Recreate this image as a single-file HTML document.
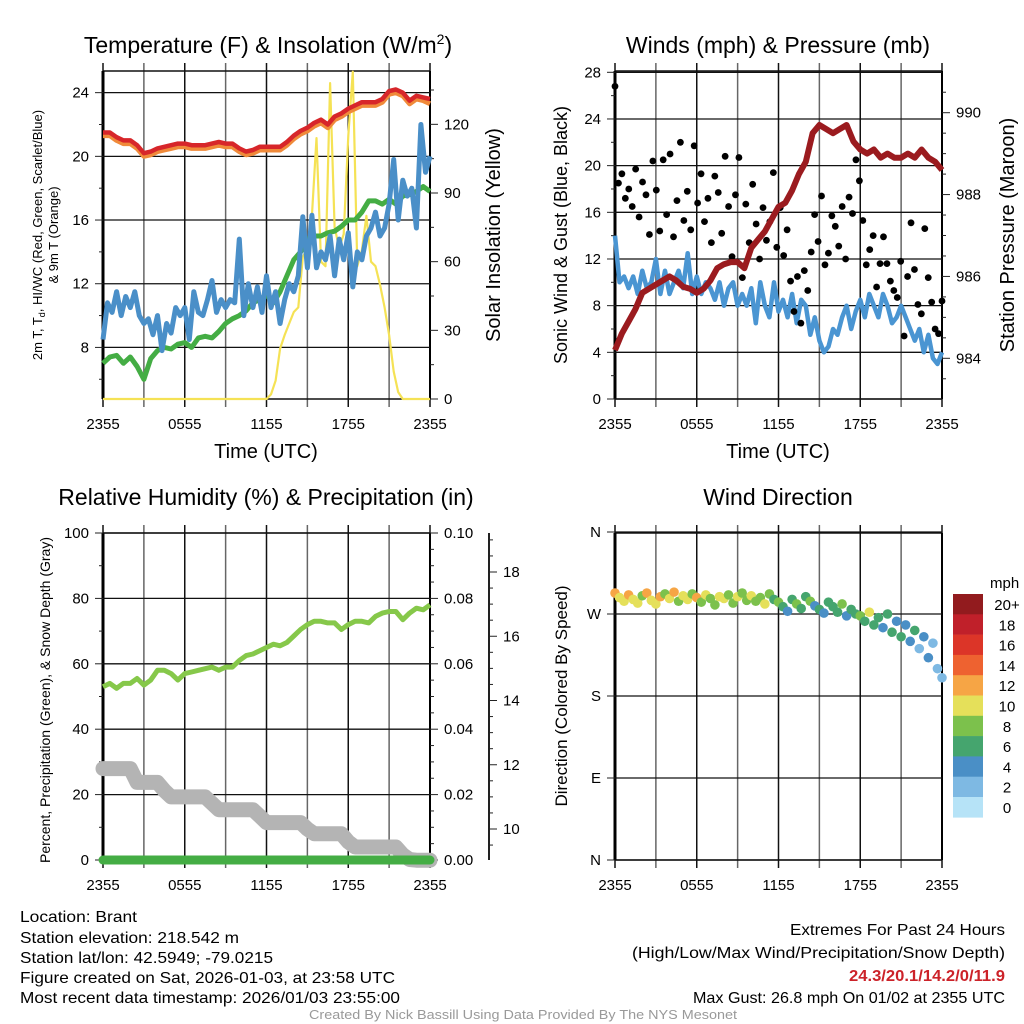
<!DOCTYPE html>
<html><head><meta charset="utf-8">
<style>
html,body{margin:0;padding:0;background:#fff;}
svg{display:block;font-family:"Liberation Sans",Arial,sans-serif;}
</style></head>
<body>
<svg id="fig" width="1024" height="1024" viewBox="0 0 1024 1024" xmlns="http://www.w3.org/2000/svg">
<rect x="0" y="0" width="1024" height="1024" fill="#fff"/>
<text x="268" y="53" font-size="23" text-anchor="middle">Temperature (F) &amp; Insolation (W/m<tspan dy="-9" font-size="14">2</tspan><tspan dy="9">)</tspan></text>
<text x="778" y="53" font-size="23" text-anchor="middle">Winds (mph) &amp; Pressure (mb)</text>
<text x="266" y="505" font-size="23" text-anchor="middle">Relative Humidity (%) &amp; Precipitation (in)</text>
<text x="778" y="505" font-size="23" text-anchor="middle">Wind Direction</text>

<text x="266" y="458" font-size="20" text-anchor="middle">Time (UTC)</text>
<text x="778" y="458" font-size="20" text-anchor="middle">Time (UTC)</text>

<text transform="translate(42,235) rotate(-90)" font-size="13" text-anchor="middle">2m T, T<tspan dy="3" font-size="9">d</tspan><tspan dy="-3">, HI/WC (Red, Green, Scarlet/Blue)</tspan></text>
<text transform="translate(58,235) rotate(-90)" font-size="13" text-anchor="middle">&amp; 9m T (Orange)</text>
<text transform="translate(500,235) rotate(-90)" font-size="20" text-anchor="middle">Solar Insolation (Yellow)</text>
<text transform="translate(567,235) rotate(-90)" font-size="18" text-anchor="middle">Sonic Wind &amp; Gust (Blue, Black)</text>
<text transform="translate(1014,235) rotate(-90)" font-size="20" text-anchor="middle">Station Pressure (Maroon)</text>
<text transform="translate(50,700) rotate(-90)" font-size="14" text-anchor="middle">Percent, Precipitation (Green), &amp; Snow Depth (Gray)</text>
<text transform="translate(567,696) rotate(-90)" font-size="17" text-anchor="middle">Direction (Colored By Speed)</text>

<g font-size="16">
<text x="20" y="922" textLength="117" lengthAdjust="spacingAndGlyphs">Location: Brant</text>
<text x="20" y="943" textLength="219" lengthAdjust="spacingAndGlyphs">Station elevation: 218.542 m</text>
<text x="20" y="963" textLength="253" lengthAdjust="spacingAndGlyphs">Station lat/lon: 42.5949; -79.0215</text>
<text x="20" y="983" textLength="375" lengthAdjust="spacingAndGlyphs">Figure created on Sat, 2026-01-03, at 23:58 UTC</text>
<text x="20" y="1003" textLength="380" lengthAdjust="spacingAndGlyphs">Most recent data timestamp: 2026/01/03 23:55:00</text>
</g>
<g font-size="16">
<text x="790" y="935" textLength="215" lengthAdjust="spacingAndGlyphs">Extremes For Past 24 Hours</text>
<text x="632" y="958" textLength="373" lengthAdjust="spacingAndGlyphs">(High/Low/Max Wind/Precipitation/Snow Depth)</text>
<text x="849" y="981" textLength="156" lengthAdjust="spacingAndGlyphs" fill="#cc2229" font-weight="bold">24.3/20.1/14.2/0/11.9</text>
<text x="693" y="1003" textLength="312" lengthAdjust="spacingAndGlyphs">Max Gust: 26.8 mph On 01/02 at 2355 UTC</text>
</g>
<text x="309" y="1019" font-size="13" fill="#999" textLength="428" lengthAdjust="spacingAndGlyphs">Created By Nick Bassill Using Data Provided By The NYS Mesonet</text>
</svg>
<script>
// ---------- data ----------
const timeLabels=["2355","0555","1155","1755","2355"];
const tempRed=[21.5,21.5,21.2,21.0,21.0,20.7,20.2,20.3,20.5,20.6,20.7,20.8,20.8,20.7,20.7,20.7,20.8,20.9,20.8,20.8,20.5,20.3,20.4,20.6,20.6,20.6,20.6,20.9,21.3,21.6,21.8,22.1,22.3,22.0,22.5,22.7,23.0,23.2,23.4,23.4,23.4,23.6,24.1,24.2,24.0,23.5,23.8,23.7,23.6];
const temp9mOrange=[21.3,21.3,21.0,20.8,20.8,20.5,20.0,20.1,20.3,20.4,20.5,20.6,20.6,20.5,20.5,20.5,20.6,20.7,20.6,20.6,20.3,20.1,20.2,20.4,20.4,20.4,20.4,20.7,21.1,21.4,21.6,21.9,22.1,21.8,22.3,22.5,22.8,23.0,23.2,23.2,23.2,23.4,23.9,24.0,23.8,23.3,23.6,23.5,23.3];
const dewGreen=[7.0,7.4,7.5,7.0,7.4,6.8,6.0,7.3,7.8,8.0,7.9,8.2,8.3,8.0,8.6,8.7,8.6,9.0,9.5,9.8,10.0,10.3,10.8,11.0,11.3,10.8,11.5,12.5,13.5,14.0,14.8,15.0,15.0,15.2,15.3,15.6,16.0,16.0,16.5,17.2,17.2,17.0,17.3,17.0,17.5,17.6,17.8,18.1,17.8];
const windChillBlue=[8.5,10.8,10.2,11.5,10.0,11.2,10.5,11.5,10.0,9.5,9.8,8.8,10.0,7.8,9.5,8.9,10.5,10.0,10.5,8.5,11.5,10.2,10.0,11.0,12.2,10.2,11.0,10.5,11.0,10.8,14.8,10.0,12.0,10.5,11.8,10.2,12.5,10.5,11.5,9.5,11.0,12.0,11.5,12.5,16.2,13.0,16.3,13.0,14.0,13.5,15.0,12.5,14.8,13.5,15.2,11.8,14.0,13.5,15.0,15.5,16.5,15.0,15.5,17.0,19.8,16.0,18.5,17.5,18.0,15.5,22.0,19.0,20.0];
const solarYellow=[0,0,0,0,0,0,0,0,0,0,0,0,0,0,0,0,0,0,0,0,0,0,0,0,0,0,0,0,0,0,0,0,0,0,0,0,0,2,8,22,28,33,38,40,62,66,80,114,60,58,138,75,66,72,115,143,58,65,80,60,58,50,40,28,12,3,0,0,0,0,0,0,0];
const windSpeed=[14,10,10.5,9.5,10.5,9,11,9.5,10,12,9,11,9,10,11,9.5,12.5,9,10.5,9,10,9.5,8.5,10,8,9.5,10,8,9,8,9.5,6.5,10,8,7,10,7.5,8.5,7,9,6.5,8.5,8,5.5,7,5,4,4.5,6,5.5,7,8,6,7.5,8.5,7,9,8,7,9,8,6.5,7,8,7,6,5,6,4,5.5,3.5,3,4];
const windGust=[26.8,18.5,19.3,17.2,18.0,16.5,19.7,15.6,18.6,17.5,14.1,20.4,17.9,14.4,20.5,15.8,21.0,13.9,17.0,22.0,15.3,17.8,14.5,21.7,
16.8,19.3,15.2,17.2,13.4,19.1,17.7,14.2,20.8,16.5,12.2,17.5,20.7,10.4,16.7,13.4,18.4,15.0,12.0,16.4,13.6,15.2,19.4,13.0,
16.4,12.3,14.5,10.1,7.5,10.5,6.5,11.0,9.3,12.6,15.8,13.5,17.4,11.5,12.5,15.7,14.8,13.1,16.5,12.0,17.3,15.9,20.5,18.7,
15.3,11.5,12.8,14.0,9.6,11.6,13.9,11.6,10.1,9.3,8.7,11.8,5.4,10.5,15.1,11.1,8.1,7.3,14.6,10.4,8.3,6.0,5.6,8.4];
const pressure=[984.2,984.6,984.9,985.2,985.6,985.7,985.8,985.9,986.0,985.9,985.75,985.7,985.6,985.7,985.9,986.2,986.3,986.35,986.35,986.2,986.7,986.9,987.1,987.4,987.7,987.8,988.1,988.5,988.8,989.5,989.7,989.6,989.5,989.6,989.7,989.3,989.1,989.0,989.1,988.9,989.0,988.9,988.9,989.0,988.9,989.1,988.9,988.8,988.6];
const humidity=[53,54,52.5,54,54,55.5,53.5,55,58,58,57,55,57,57.5,58,58.5,59,58,59,59,61,62.5,63,64,65,66,65.5,66.5,68.5,70.5,72,73,73,72.5,72.5,70.5,72,73,73,72.5,74.5,75.5,76,76,73.5,75.5,77,76.5,78];
const precip=[0,0,0,0,0,0,0,0,0,0,0,0,0,0,0,0,0,0,0,0,0,0,0,0,0,0,0,0,0,0,0,0,0,0,0,0,0,0,0,0,0,0,0,0,0,0,0,0,0];
const snowDepth=[11.88,11.88,11.88,11.88,11.88,11.45,11.45,11.45,11.45,11.2,11.0,11.0,11.0,11.0,11.0,11.0,10.8,10.6,10.6,10.6,10.6,10.6,10.6,10.4,10.2,10.2,10.2,10.2,10.2,10.2,10.0,9.85,9.85,9.85,9.85,9.85,9.6,9.44,9.44,9.44,9.44,9.44,9.44,9.44,9.2,9.05,9.03,9.03,9.03];
const windDir=[293,288,284,291,286,282,290,293,285,281,289,292,287,294,284,290,286,292,288,283,291,287,280,289,
287,291,282,289,293,285,290,284,288,281,292,286,283,278,273,286,281,276,289,284,279,275,271,283,
278,272,281,268,275,270,268,262,272,258,266,255,270,250,262,245,258,240,252,232,245,222,238,210,200];
const dirSpeed=[13,11,10,12,10,11,9,12,11,10,12,9,11,12,8,10,11,9,12,8,10,9,8,11,
10,9,8,11,9,8,10,9,8,10,9,7,8,6,5,7,8,6,7,8,5,6,4,7,
6,7,8,4,7,6,8,7,10,6,7,5,6,7,4,6,5,4,6,3,4,5,3,2,3];
const speedBins=["0","2","4","6","8","10","12","14","16","18","20+"];
const binColors=["#b6e3f7","#7eb9e3","#4a8fc6","#45a56e","#7cc14c","#e5e05a","#f6a545","#ee6230","#dc3528","#c0202a","#921b1e"];

// ---------- helpers ----------
const NS="http://www.w3.org/2000/svg";
const svg=document.getElementById('fig');
function mk(tag,attrs,parent){const e=document.createElementNS(NS,tag);for(const k in attrs)e.setAttribute(k,attrs[k]);(parent||svg).appendChild(e);return e;}
function lin(d0,d1,r0,r1){return v=>r0+(v-d0)/(d1-d0)*(r1-r0);}
function xs(P,n){return i=>P.x0+(P.x1-P.x0)*i/(n-1);}
function linePath(arr,xf,yf){return arr.map((v,i)=>(i?'L':'M')+xf(i).toFixed(1)+','+yf(v).toFixed(1)).join('');}

function frame(P,name){
  const g=mk('g',{});
  
  
  for(let k=0;k<=8;k++){
    const x=P.x0+(P.x1-P.x0)*k/8;
    const l=mk('line',{x1:x,x2:x,y1:P.y0-8,y2:P.y1+8,stroke:(k%2?'#666':'#111'),'stroke-width':1.5},g);
    
    
    if(k%2===0){
      const t=mk('text',{x:x,y:P.y1+30,'font-size':15,'text-anchor':'middle'},g);
      t.textContent=timeLabels[k/2];
      
      
    }
  }
  const top=mk('line',{x1:P.x0,x2:P.x1,y1:P.y0,y2:P.y0,stroke:'#111','stroke-width':1.5},g);
  
  
  const bot=mk('line',{x1:P.x0,x2:P.x1,y1:P.y1,y2:P.y1,stroke:'#111','stroke-width':1.5},g);
  
  
  const lb=mk('line',{x1:P.x0,x2:P.x0,y1:P.y0,y2:P.y1,stroke:'#000','stroke-width':3},g);
  
  
  const rb=mk('line',{x1:P.x1,x2:P.x1,y1:P.y0,y2:P.y1,stroke:'#000','stroke-width':2},g);
  
  
}
function leftAxis(P,yf,lo,hi,major,minor,labels,name,grid){
  const g=mk('g',{});
  
  
  for(let v=lo;v<=hi+1e-9;v+=minor){
    const y=yf(v);const isMaj=Math.abs(v/major-Math.round(v/major))<1e-6;
    mk('line',{x1:P.x0-(isMaj?8:4),x2:P.x0,y1:y,y2:y,stroke:'#222','stroke-width':1},g);
    if(isMaj){
      if(grid) mk('line',{x1:P.x0,x2:P.x1,y1:y,y2:y,stroke:'#111','stroke-width':1.3},g);
      const t=mk('text',{x:P.x0-14,y:y+5,'font-size':15,'text-anchor':'end'},g);
      t.textContent=labels?labels(v):String(v);
      
      
    }
  }
}
function rightAxis(x,yf,lo,hi,major,minor,fmt,name,lineY){
  const g=mk('g',{});
  
  
  if(lineY) mk('line',{x1:x,x2:x,y1:lineY[0],y2:lineY[1],stroke:'#222','stroke-width':2},g);
  for(let v=lo;v<=hi+1e-9;v+=minor){
    const y=yf(v);const isMaj=Math.abs(v/major-Math.round(v/major))<1e-6;
    mk('line',{x1:x,x2:x+(isMaj?8:4),y1:y,y2:y,stroke:'#222','stroke-width':1},g);
    if(isMaj){
      const t=mk('text',{x:x+14,y:y+5,'font-size':15},g);
      t.textContent=fmt(v);
      
      
    }
  }
}

// ---------- panel 1: temperature ----------
const P1={x0:103,x1:430,y0:71,y1:399};
const yT=lin(4.76,25.36,399,71), yS=lin(0,143.3,399,71);
frame(P1,'temperature');
leftAxis(P1,yT,6,24,4,2,null,'temperature-left-axis',true);
rightAxis(P1.x1,yS,0,135,30,15,v=>String(v),'insolation-right-axis');
let p;
p=mk('path',{d:linePath(solarYellow,xs(P1,solarYellow.length),yS),fill:'none',stroke:'#f5e255','stroke-width':2.2,'stroke-linejoin':'round'});


p=mk('path',{d:linePath(dewGreen,xs(P1,dewGreen.length),yT),fill:'none',stroke:'#44ad44','stroke-width':5,'stroke-linejoin':'round'});


p=mk('path',{d:linePath(windChillBlue,xs(P1,windChillBlue.length),yT),fill:'none',stroke:'#4a8fc8','stroke-width':5,'stroke-linejoin':'round'});


p=mk('path',{d:linePath(temp9mOrange,xs(P1,temp9mOrange.length),yT),fill:'none',stroke:'#f08a3a','stroke-width':5,'stroke-linejoin':'round'});


p=mk('path',{d:linePath(tempRed,xs(P1,tempRed.length),yT),fill:'none',stroke:'#d7262a','stroke-width':4.5,'stroke-linejoin':'round'});



// ---------- panel 2: winds ----------
const P2={x0:615,x1:942,y0:71,y1:399};
const yW=lin(0,28,399,72.3), yP=lin(984,990,358.3,112.7);
frame(P2,'winds');
leftAxis(P2,yW,0,28,4,2,null,'wind-left-axis',true);
rightAxis(P2.x1,yP,983.5,990.5,2,0.5,v=>String(v),'pressure-right-axis');
p=mk('path',{d:linePath(windSpeed,xs(P2,windSpeed.length),yW),fill:'none',stroke:'#4a95d2','stroke-width':4.5,'stroke-linejoin':'round'});


const gxf=xs(P2,windGust.length);
windGust.forEach((v,i)=>{
  const c=mk('circle',{cx:gxf(i),cy:yW(v),r:3.4,fill:'#000'});
  
  
});
p=mk('path',{d:linePath(pressure,xs(P2,pressure.length),yP),fill:'none',stroke:'#9b1b1f','stroke-width':6,'stroke-linejoin':'round'});



// ---------- panel 3: humidity ----------
const P3={x0:103,x1:430,y0:533,y1:860};
const yH=lin(0,100,860,533), yPr=lin(0,0.1,860,533), ySn=lin(10,18,829,572);
frame(P3,'humidity');
leftAxis(P3,yH,0,100,20,10,null,'humidity-left-axis',true);
rightAxis(P3.x1,yPr,0,0.1,0.02,0.005,v=>v.toFixed(2),'precip-right-axis');
rightAxis(489,ySn,9.5,19,2,0.5,v=>String(Math.round(v)),'snow-depth-axis',[533,860]);
p=mk('path',{d:linePath(snowDepth,xs(P3,snowDepth.length),ySn),fill:'none',stroke:'#b4b4b4','stroke-width':15,'stroke-linejoin':'round','stroke-linecap':'round'});


p=mk('path',{d:linePath(precip,xs(P3,precip.length),yPr),fill:'none',stroke:'#44ad44','stroke-width':9,'stroke-linecap':'round'});


p=mk('path',{d:linePath(humidity,xs(P3,humidity.length),yH),fill:'none',stroke:'#86c84a','stroke-width':5,'stroke-linejoin':'round'});



// ---------- panel 4: wind direction ----------
const P4={x0:615,x1:942,y0:533,y1:860};
const yD=lin(0,360,860,532);
frame(P4,'wind-direction');
const dirLabels=["N","E","S","W","N"];
leftAxis(P4,yD,0,360,90,90,v=>dirLabels[Math.round(v/90)],'direction-left-axis',true);
const dxf=xs(P4,windDir.length);
windDir.forEach((d,i)=>{
  const b=Math.max(0,Math.min(10,Math.floor(dirSpeed[i]/2)));
  const c=mk('circle',{cx:dxf(i),cy:yD(d),r:4.8,fill:binColors[b]});
  
  
});
// colorbar
const cb=mk('g',{});


const cbt=mk('text',{x:990,y:588,'font-size':15},cb);
cbt.textContent='mph';


for(let k=0;k<speedBins.length;k++){
  const idx=speedBins.length-1-k;
  const y=594+k*20.3;
  const r=mk('rect',{x:953,y:y,width:30,height:20.6,fill:binColors[idx]},cb);
  
  
  const t=mk('text',{x:1007,y:y+16,'font-size':15,'text-anchor':'middle'},cb);
  t.textContent=speedBins[idx];
  
  
}
</script>
</body></html>
